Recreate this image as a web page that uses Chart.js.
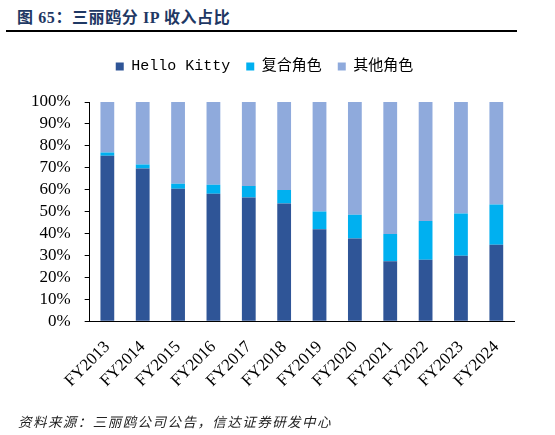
<!DOCTYPE html>
<html>
<head>
<meta charset="utf-8">
<script src="https://cdn.jsdelivr.net/npm/chart.js@4"></script>
<style>
  html, body { margin: 0; padding: 0; background: #fff; }
  #wrap { position: relative; width: 555px; height: 435px; overflow: hidden; }
  #title {
    position: absolute; left: 17px; top: 4px;
    font-family: "Liberation Serif", "Noto Sans CJK SC", serif;
    font-weight: bold; font-size: 16px; letter-spacing: 0.6px;
    color: #1f3864; white-space: nowrap;
  }
  #rule { position: absolute; left: 6px; top: 30px; width: 511px; height: 2px; background: #000; }
  #source {
    position: absolute; left: 18px; top: 411px;
    font-family: "Noto Sans CJK SC", sans-serif; font-style: italic;
    font-size: 13.5px; letter-spacing: 1.45px; color: #222; white-space: nowrap;
  }
  #chart { position: absolute; left: 0; top: 0; }
</style>
</head>
<body>
<div id="wrap">
  <div id="title">图 65：三丽鸥分 IP 收入占比</div>
  <div id="rule"></div>
  <canvas id="chart" width="555" height="435"></canvas>
  <div id="source">资料来源：三丽鸥公司公告，信达证券研发中心</div>
</div>
<script>
const years = ["FY2013", "FY2014", "FY2015", "FY2016", "FY2017", "FY2018",
               "FY2019", "FY2020", "FY2021", "FY2022", "FY2023", "FY2024"];
const helloKitty = [75.5, 69.7, 60.4, 58.1, 56.4, 53.7, 41.9, 37.7, 27.3, 28.0, 29.9, 34.9];
const fuhe       = [ 1.5,  1.8,  2.3,  4.1,  5.3,  6.2,  8.1, 10.9, 12.5, 17.7, 19.2, 18.3];
const qita       = [23.0, 28.5, 37.3, 37.8, 38.3, 40.1, 50.0, 51.4, 60.2, 54.3, 50.9, 46.8];
const yTicks     = [0, 10, 20, 30, 40, 50, 60, 70, 80, 90, 100];

const SERIES = [
  { label: "Hello Kitty", data: helloKitty, color: "#2f5597" },
  { label: "复合角色",    data: fuhe,       color: "#00b0f0" },
  { label: "其他角色",    data: qita,       color: "#8faadc" },
];

const serif = "'Liberation Serif', 'Times New Roman', serif";

// extra room under the legend, and nudge it a bit left like the original
const legendGap = {
  id: "legendGap",
  beforeInit(chart) {
    const fit = chart.legend.fit;
    chart.legend.fit = function () {
      fit.bind(chart.legend)();
      this.height += 18;
    };
  },
  afterLayout(chart) {
    chart.legend.left -= 1;
    chart.legend.right -= 1;
  },
};

new Chart(document.getElementById("chart"), {
  type: "bar",
  data: {
    labels: years,
    datasets: SERIES.map(s => ({
      label: s.label,
      data: s.data,
      backgroundColor: s.color,
      borderWidth: 0,
      barPercentage: 0.39,
      categoryPercentage: 1,
    })),
  },
  plugins: [legendGap],
  options: {
    responsive: false,
    animation: false,
    layout: { padding: { left: 17, right: 41, top: 43, bottom: 36 } },
    plugins: {
      tooltip: { enabled: false },
      legend: {
        position: "top",
        labels: {
          boxWidth: 8,
          boxHeight: 8,
          padding: 16,
          color: "#000",
          font: { family: "'Liberation Mono', 'Noto Sans CJK SC', monospace", size: 15 },
        },
      },
    },
    scales: {
      x: {
        stacked: true,
        grid: { display: false },
        border: { display: true, color: "#000", width: 1 },
        ticks: {
          color: "#000",
          maxRotation: 45,
          minRotation: 45,
          padding: 8,
          font: { family: serif, size: 17 },
        },
      },
      y: {
        stacked: true,
        min: 0,
        max: 100,
        afterBuildTicks: axis => { axis.ticks = yTicks.map(v => ({ value: v })); },
        grid: { drawOnChartArea: false, drawTicks: true, tickLength: 5, color: "#000" },
        border: { display: true, color: "#000", width: 1 },
        ticks: {
          color: "#000",
          autoSkip: false,
          padding: 14,
          font: { family: serif, size: 17 },
          callback: v => v + "%",
        },
      },
    },
  },
});
</script>
</body>
</html>
